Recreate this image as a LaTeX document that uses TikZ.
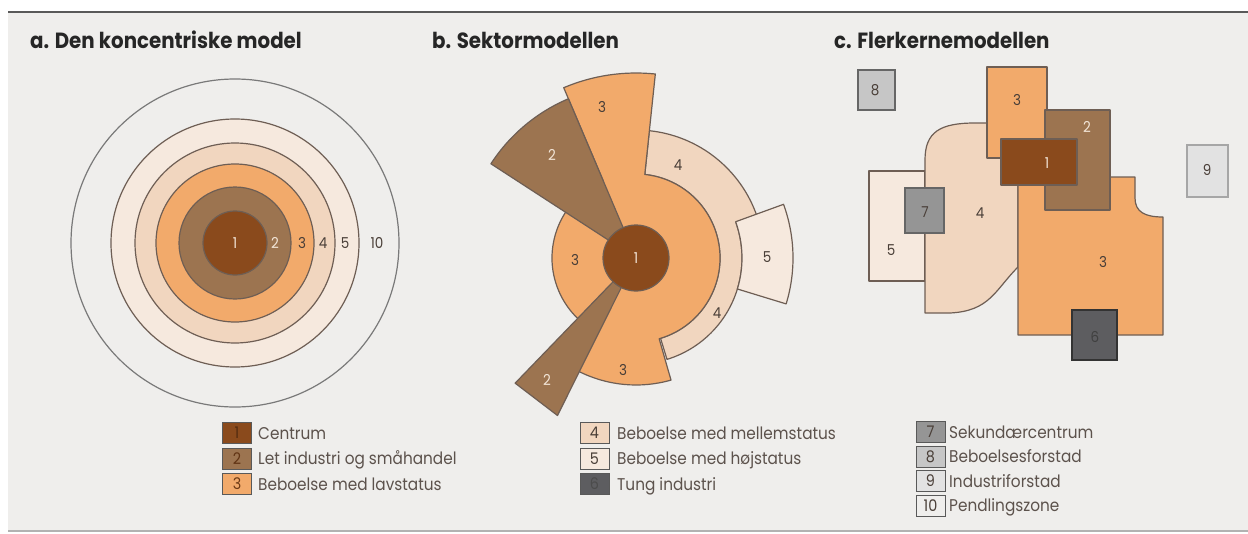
\documentclass[tikz,border=0pt]{standalone}
\usepackage{fontspec}
\setmainfont{Poppins}
\newfontfamily\ttlfont{Poppins}[FakeStretch=0.9]
\newfontfamily\lgdfont{Poppins}[FakeStretch=0.9]
\definecolor{bg}{HTML}{EFEEEC}
\definecolor{cA}{HTML}{8A4A1C}
\definecolor{cB}{HTML}{9C7450}
\definecolor{cC}{HTML}{F2AA6B}
\definecolor{cD}{HTML}{F1D6BF}
\definecolor{cE}{HTML}{F6E9DE}
\definecolor{cF}{HTML}{5D5D60}
\definecolor{cG}{HTML}{959595}
\definecolor{cH}{HTML}{C6C6C6}
\definecolor{cI}{HTML}{E2E2E2}
\definecolor{ink}{HTML}{4A3F38}
\definecolor{edge}{HTML}{6E5E54}
\definecolor{lite}{HTML}{F3E6D8}
\tikzset{
  zone/.style={draw=edge, line width=1.2pt, line join=round},
  gbox/.style={draw=gray!80!black, line width=1.2pt},
  num/.style={font=\lgdfont\fontsize{15}{15}\selectfont, text=ink, inner sep=0pt},
  wnum/.style={num, text=lite},
  ttl/.style={font=\ttlfont\bfseries\fontsize{22}{22}\selectfont, text=black!85, anchor=base west, inner sep=0pt},
  sw/.style={draw=gray!70!black, line width=0.6pt, minimum width=29pt, minimum height=21pt, inner sep=0pt, font=\lgdfont\fontsize{16}{16}\selectfont, text=ink},
  lg/.style={font=\lgdfont\fontsize{17}{17}\selectfont, text=ink!90, anchor=base west, inner sep=0pt}
}
\begin{document}
\begin{tikzpicture}[x=1pt,y=1pt]
\useasboundingbox (0,0) rectangle (1248,-533);
\fill[white] (0,0) rectangle (1248,-533);
\fill[bg] (8,-12) rectangle (1248,-531);
\draw[gray!70!black, line width=1.5pt] (8,-12) -- (1248,-12);
\draw[gray!60, line width=1.2pt] (8,-531) -- (1248,-531);

% titles
\node[ttl] (ta) at (30,-48) {a. Den koncentriske model};
\node[ttl] (tb) at (432,-48) {b. Sektormodellen};
\node[ttl] (tc) at (834,-48) {c. Flerkernemodellen};

% ---------- panel a ----------
\begin{scope}[shift={(235,-243)}]
\draw[zone, draw=gray!95!black] (0,0) circle[radius=164];
\draw[zone, fill=cE] (0,0) circle[radius=124];
\draw[zone, fill=cD] (0,0) circle[radius=100];
\draw[zone, fill=cC] (0,0) circle[radius=79];
\draw[zone, fill=cB] (0,0) circle[radius=56];
\draw[zone, fill=cA] (0,0) circle[radius=32];
\end{scope}
\node[wnum] (a1) at (235,-243) {1};
\node[wnum] (a2) at (275,-243) {2};
\node[num] (a3) at (302,-243) {3};
\node[num] (a4) at (323,-243) {4};
\node[num] (a5) at (345,-243) {5};
\node[num] (a10) at (377,-243) {10};

% ---------- panel b ----------
\begin{scope}[shift={(636,-258)}]
\draw[zone, fill=cD] (84:128) arc[start angle=84,end angle=19,radius=128] -- (19:106)
  arc[start angle=19,end angle=-73,radius=106] -- (-73:84)
  arc[start angle=-73,end angle=84,radius=84] -- cycle;
\draw[zone, fill=cE] (20:106) -- (20:157) arc[start angle=20,end angle=-17,radius=157]
  -- (-17:106) arc[start angle=-17,end angle=20,radius=106] -- cycle;
\draw[zone, fill=cC] (84:185) arc[start angle=84,end angle=113,radius=185] -- (113:84)
  arc[start angle=113,end angle=243,radius=84] -- (243:127)
  arc[start angle=243,end angle=286,radius=127] -- (286:84)
  arc[start angle=286,end angle=444,radius=84] -- cycle;
\draw[zone, fill=cB] (0,0) -- (113:173) arc[start angle=113,end angle=147,radius=173] -- cycle;
\draw[zone, fill=cB] (0,0) -- (226:174) -- (243.5:176) -- cycle;
\draw[zone, fill=cA] (0,0) circle[radius=33];
\end{scope}
\node[wnum] (b1) at (636,-258) {1};
\node[wnum] (b2u) at (552,-155) {2};
\node[num] (b3u) at (602,-107) {3};
\node[num] (b4u) at (678,-165) {4};
\node[num] (b3l) at (575,-260) {3};
\node[num] (b5) at (767,-257) {5};
\node[num] (b4l) at (717,-313) {4};
\node[num] (b3b) at (623,-370) {3};
\node[wnum] (b2l) at (547,-380) {2};

% ---------- panel c ----------
\draw[gbox, fill=cH] (858,-70) rectangle (895,-110);
\draw[gbox, draw=gray!70, fill=cI] (1187,-145) rectangle (1228,-197);
\draw[zone, fill=cE] (869,-171) rectangle (925,-281);
\draw[zone, fill=cD] (925,-313) -- (925,-160) .. controls (925,-132) and (940,-123) .. (975,-123)
  -- (1018,-123) -- (1018,-267) .. controls (995,-290) and (990,-311) .. (950,-313) -- cycle;
\draw[zone, fill=cC] (1018,-177) -- (1135,-177) -- (1135,-198) .. controls (1135,-212) and (1145,-217) .. (1163,-217)
  -- (1163,-335) -- (1018,-335) -- cycle;
\draw[zone, fill=cC] (987,-67) rectangle (1047,-158);
\draw[zone, fill=cB] (1045,-110) rectangle (1110,-210);
\draw[zone, fill=cA] (1001,-139) rectangle (1077,-185);
\draw[gbox, fill=cG] (905,-188) rectangle (944,-233);
\draw[gbox, draw=gray!40!black, fill=cF] (1072,-310) rectangle (1117,-360);
\node[num] (c8) at (875,-90) {8};
\node[num] (c9) at (1207,-170) {9};
\node[num] (c3t) at (1017,-100) {3};
\node[wnum] (c2) at (1087,-127) {2};
\node[wnum] (c1) at (1047,-163) {1};
\node[num] (c7) at (925,-212) {7};
\node[num] (c4) at (980,-213) {4};
\node[num] (c5) at (891,-250) {5};
\node[num] (c3b) at (1103,-262) {3};
\node[num, text=black!75] (c6) at (1095,-337) {6};

% ---------- legend ----------
\node[sw, fill=cA, text=cA!60!black] (l1) at (237,-433) {1};
\node[sw, fill=cB, text=cA!70!black] (l2) at (237,-458.5) {2};
\node[sw, fill=cC, text=cA!80!black] (l3) at (237,-484) {3};
\node[lg] (t1) at (258,-439) {Centrum};
\node[lg] (t2) at (258,-464.5) {Let industri og småhandel};
\node[lg] (t3) at (258,-490) {Beboelse med lavstatus};

\node[sw, fill=cD] (l4) at (594.5,-433) {4};
\node[sw, fill=cE] (l5) at (594.5,-458.5) {5};
\node[sw, fill=cF, text=black!70] (l6) at (594.5,-484) {6};
\node[lg] (t4) at (617,-439) {Beboelse med mellemstatus};
\node[lg] (t5) at (617,-464.5) {Beboelse med højstatus};
\node[lg] (t6) at (617,-490) {Tung industri};

\node[sw, fill=cG] (l7) at (930.5,-432) {7};
\node[sw, fill=cH] (l8) at (930.5,-456.5) {8};
\node[sw, fill=cI] (l9) at (930.5,-481) {9};
\node[sw, fill=bg] (l10) at (930.5,-505.5) {10};
\node[lg] (t7) at (949,-438) {Sekundærcentrum};
\node[lg] (t8) at (949,-462.5) {Beboelsesforstad};
\node[lg] (t9) at (949,-487) {Industriforstad};
\node[lg] (t10) at (949,-511.5) {Pendlingszone};
\end{tikzpicture}
\end{document}
